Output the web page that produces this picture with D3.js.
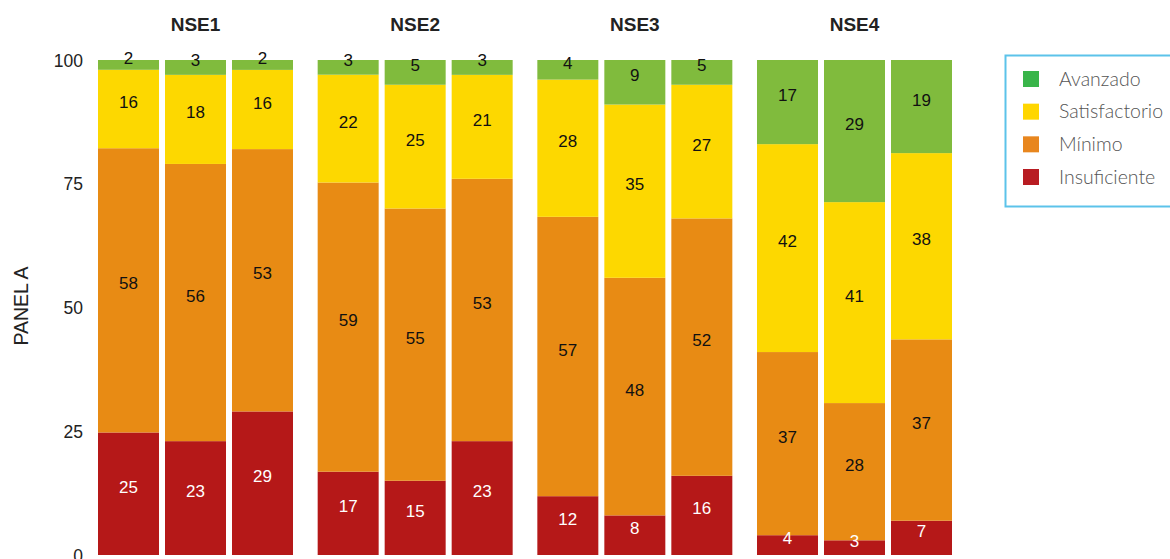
<!DOCTYPE html>
<html><head><meta charset="utf-8">
<script src="https://cdn.jsdelivr.net/npm/d3@7"></script>
<style>body{margin:0;background:#fff;} svg{display:block;}</style>
</head><body>
<svg id="chart" width="1170" height="559"></svg>
<script>
const groups = ["NSE1","NSE2","NSE3","NSE4"];
const barIds = ["a","b","c"];
const levels = ["Insuficiente","Mínimo","Satisfactorio","Avanzado"];
const insuficiente = [[25,23,29],[17,15,23],[12,8,16],[4,3,7]];
const minimo       = [[58,56,53],[59,55,53],[57,48,52],[37,28,37]];
const satisfactorio= [[16,18,16],[22,25,21],[28,35,27],[42,41,38]];
const avanzado     = [[2,3,2],[3,5,3],[4,9,5],[17,29,19]];
const yTicks = [0,25,50,75,100];
const legendOrder = ["Avanzado","Satisfactorio","Mínimo","Insuficiente"];

const barColor = {"Insuficiente":"#b51818","Mínimo":"#e88b14","Satisfactorio":"#fdd800","Avanzado":"#80bb3d"};
const legColor = {"Insuficiente":"#b81c22","Mínimo":"#e8861e","Satisfactorio":"#ffd600","Avanzado":"#39b54a"};
const labelColor = {"Insuficiente":"#ffffff","Mínimo":"#111","Satisfactorio":"#111","Avanzado":"#111"};

const rows = [];
groups.forEach((g,gi)=>barIds.forEach((b,bi)=>{
  rows.push({group:g, bar:b, "Insuficiente":insuficiente[gi][bi], "Mínimo":minimo[gi][bi],
    "Satisfactorio":satisfactorio[gi][bi], "Avanzado":avanzado[gi][bi]});
}));

const svg = d3.select("#chart");
const x0 = d3.scaleBand().domain(groups).range([98,952]).paddingInner(0.1123).paddingOuter(0);
const x1 = d3.scaleBand().domain(barIds).range([0,x0.bandwidth()]).paddingInner(0.0896).paddingOuter(0);
const y = d3.scaleLinear().domain([0,100]).range([555,60]);

const stack = d3.stack().keys(levels).offset(d3.stackOffsetExpand);
const series = stack(rows);

// y axis
const yAxis = d3.axisLeft(y).tickValues(yTicks).tickSize(0).tickPadding(0);
const ga = svg.append("g").attr("transform","translate(83,0)").call(yAxis);
ga.select(".domain").remove();
ga.selectAll("text").attr("font-family","Liberation Sans, Arial, sans-serif").attr("font-size",17.5).attr("fill","#222").attr("dy","0.35em");

svg.append("text").attr("transform","translate(28,306) rotate(-90)")
  .attr("text-anchor","middle").attr("font-family","Liberation Sans, Arial, sans-serif")
  .attr("font-size",19.5).attr("fill","#222").text("PANEL A");

// titles
svg.selectAll(".gt").data(groups).join("text")
  .attr("x",g=>x0(g)+x0.bandwidth()/2).attr("y",31)
  .attr("text-anchor","middle").attr("font-family","Liberation Sans, Arial, sans-serif")
  .attr("font-weight","bold").attr("font-size",19).attr("fill","#222").text(g=>g);

// bars
const layer = svg.append("g").selectAll("g").data(series).join("g").attr("fill",s=>barColor[s.key]);
layer.selectAll("rect").data(s=>s.map(d=>Object.assign(d,{key:s.key}))).join("rect")
  .attr("x",d=>x0(d.data.group)+x1(d.data.bar))
  .attr("width",x1.bandwidth())
  .attr("y",d=>y(d[1]*100))
  .attr("height",d=>y(d[0]*100)-y(d[1]*100));

// labels
const lab = svg.append("g");
series.forEach(s=>{
  s.forEach(d=>{
    lab.append("text")
      .attr("x",x0(d.data.group)+x1(d.data.bar)+x1.bandwidth()/2)
      .attr("y",(y(d[0]*100)+y(d[1]*100))/2 - 1)
      .attr("text-anchor","middle")
      .attr("font-family","Liberation Sans, Arial, sans-serif")
      .attr("font-size",17)
      .attr("fill",labelColor[s.key])
      .text(d.data[s.key]);
  });
});

// legend
const lg = svg.append("g");
lg.append("rect").attr("x",1005.5).attr("y",55.5).attr("width",180).attr("height",151)
  .attr("fill","#fff").attr("stroke","#5cc3ea").attr("stroke-width",2);
const ly = d3.scalePoint().domain(legendOrder).range([79,177]);
legendOrder.forEach(k=>{
  lg.append("rect").attr("x",1023).attr("y",ly(k)-8).attr("width",16).attr("height",16).attr("fill",legColor[k]);
  lg.append("text").attr("x",1059).attr("y",ly(k)).attr("dy","0.35em")
    .attr("font-family","Lato, 'Open Sans', sans-serif").attr("font-weight",300).attr("font-size",19.5).attr("fill","#555").text(k);
});
</script>
</body></html>
